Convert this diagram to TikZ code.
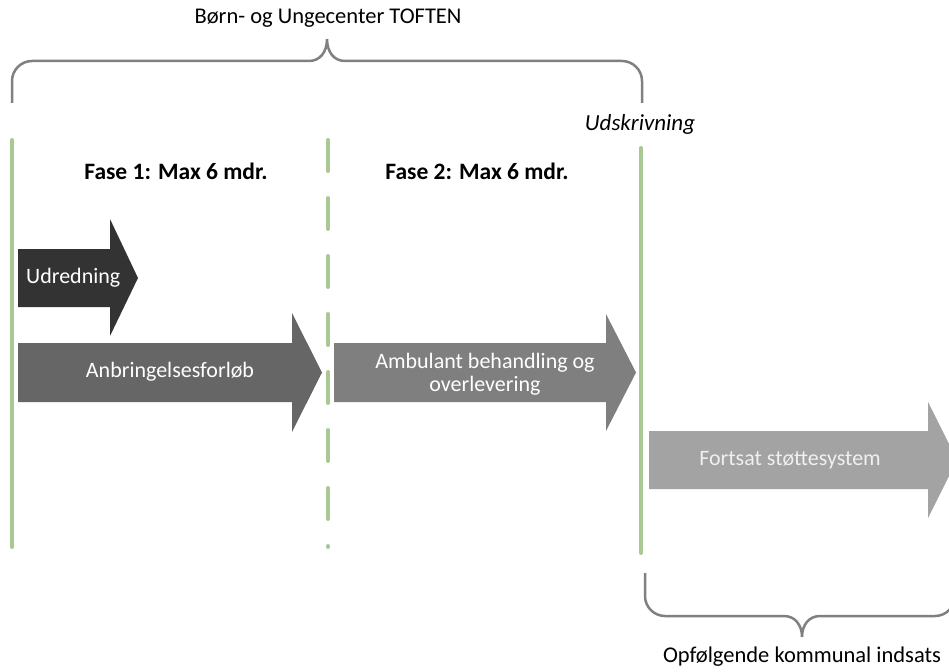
\documentclass[tikz,border=0pt]{standalone}
\usepackage{fontspec}
\setmainfont{Carlito}
\definecolor{grn}{HTML}{A9C994}
\definecolor{brc}{HTML}{808080}
\definecolor{cone}{HTML}{333333}
\definecolor{ctwo}{HTML}{666666}
\definecolor{cthree}{HTML}{7F7F7F}
\definecolor{cfour}{HTML}{A3A3A3}
\begin{document}
\begin{tikzpicture}[x=1pt,y=-1pt,
  greenline/.style={draw=grn,line width=4pt,line cap=round},
  bracepath/.style={draw=brc,line width=2.5pt},
  arrtext/.style={text=white,font=\fontsize{22}{24}\selectfont,inner sep=0pt},
  plain/.style={text=black,font=\fontsize{22.5}{26}\selectfont,inner sep=0pt},
  phase/.style={text=black,font=\bfseries\fontsize{23.5}{26}\selectfont,inner sep=0pt}]
\useasboundingbox (0,0) rectangle (949,671);
\clip (0,0) rectangle (949,671);
% coordinates for lines
\coordinate (lat) at (12,140); \coordinate (lab) at (12,547);
\coordinate (lbt) at (328,140); \coordinate (lbb) at (328,547);
\coordinate (lct) at (641,148); \coordinate (lcb) at (641,553);
\draw[greenline] (lat) -- (lab);
\draw[greenline,dash pattern=on 31pt off 27pt] (lbt) -- (lbb);
\draw[greenline] (lct) -- (lcb);
% top brace
\coordinate (tbl) at (12,103); \coordinate (tbr) at (642,103); \coordinate (tbc) at (327,39);
\draw[bracepath] (tbl) -- (12,81) .. controls (12,70) and (21,61) .. (32,61) -- (309,61)
  .. controls (320,61) and (327,52) .. (tbc) .. controls (327,52) and (334,61) .. (345,61)
  -- (622,61) .. controls (633,61) and (642,70) .. (642,81) -- (tbr);
% bottom brace
\coordinate (bbl) at (645,573); \coordinate (bbc) at (802,637);
\draw[bracepath] (bbl) -- (645,596) .. controls (645,607) and (654,616) .. (665,616) -- (784,616)
  .. controls (795,616) and (802,625) .. (bbc) .. controls (802,625) and (809,616) .. (820,616)
  -- (935,616) .. controls (946,616) and (955,607) .. (955,596) -- (955,573);
% arrows
\fill[cone] (18,249) -- (110,249) -- (110,219) -- (138,278) -- (110,336) -- (110,307) -- (18,307) -- cycle;
\fill[ctwo] (18,343) -- (292,343) -- (292,313) -- (322,372.5) -- (292,432) -- (292,402) -- (18,402) -- cycle;
\fill[cthree] (334,343) -- (606,343) -- (606,314) -- (636,372.5) -- (606,431) -- (606,402) -- (334,402) -- cycle;
\fill[cfour] (649,431) -- (928,431) -- (928,402) -- (957,460) -- (928,518) -- (928,489) -- (649,489) -- cycle;
% texts
\node[plain] (top) at (328,18) {Børn- og Ungecenter TOFTEN};
\node[plain,font=\itshape\fontsize{23}{26}\selectfont] (uds) at (640,124) {Udskrivning};
\node[phase] (f1) at (176,171) {Fase 1: Max 6 mdr.};
\node[phase] (f2) at (477,171) {Fase 2: Max 6 mdr.};
\node[arrtext,anchor=west] (udr) at (26,278) {Udredning};
\node[arrtext] (anb) at (170,372) {Anbringelsesforløb};
\node[arrtext,align=center,font=\fontsize{22}{23}\selectfont] (amb) at (485,374) {Ambulant behandling og\\overlevering};
\node[arrtext,text=white!94!black] (fort) at (790,460) {Fortsat støttesystem};
\node[plain] (opf) at (802,657) {Opfølgende kommunal indsats};
\end{tikzpicture}
\end{document}
